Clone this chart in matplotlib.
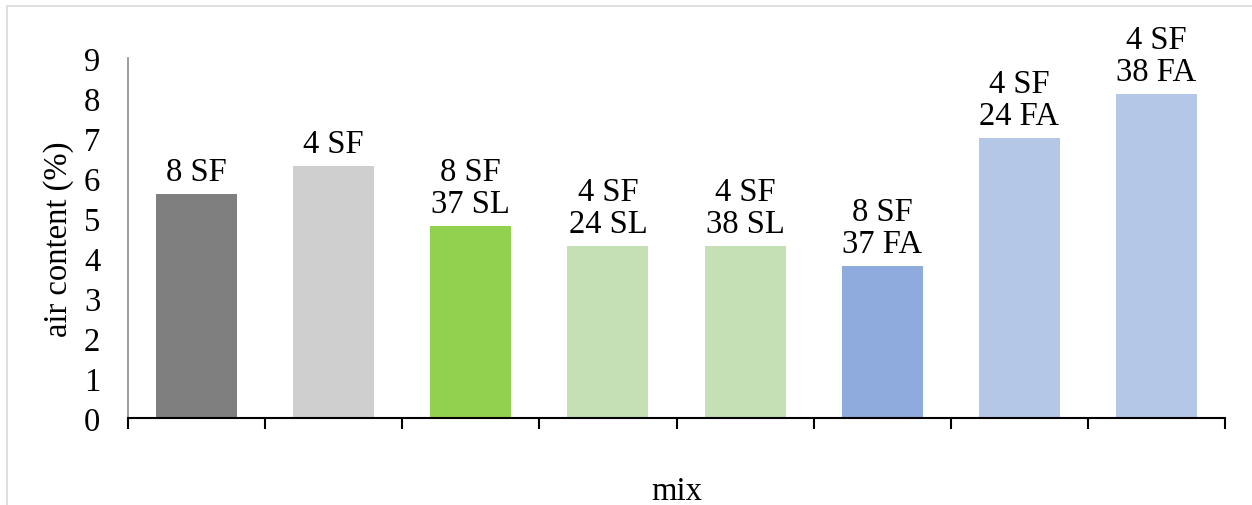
import matplotlib
matplotlib.use("Agg")
import matplotlib.pyplot as plt
from matplotlib.patches import Rectangle

plt.rcParams['font.family'] = ['Liberation Serif', 'DejaVu Serif']

mixes = ["8 SF", "4 SF", "8 SF\n37 SL", "4 SF\n24 SL", "4 SF\n38 SL",
         "8 SF\n37 FA", "4 SF\n24 FA", "4 SF\n38 FA"]
air_content = [5.6, 6.3, 4.8, 4.3, 4.3, 3.8, 7.0, 8.1]
bar_colors = ["#7f7f7f", "#d0cfcf", "#92d050", "#c5e0b4", "#c5e0b4",
              "#8faadc", "#b4c7e7", "#b4c7e7"]
y_ticks = list(range(0, 10))

W, H = 1252, 506
FS = 23.5
fig = plt.figure(figsize=(W / 100, H / 100), dpi=100)

# light frame around the chart area
fig.patches.append(Rectangle((7 / W, -0.1), 1.2, 1 - 7 / H + 0.1,
                             transform=fig.transFigure, fill=False,
                             edgecolor="#d9d9d9", linewidth=1.2))

ax = fig.add_axes([128 / W, 1 - 419 / H, (1225 - 128) / W, (419 - 59) / H])

x = list(range(len(mixes)))
ax.bar(x, air_content, width=0.59, color=bar_colors)

for xi, val, lab in zip(x, air_content, mixes):
    ax.annotate(lab, (xi, val), xytext=(0, 5), textcoords="offset points",
                ha="center", va="bottom", fontsize=FS, linespacing=1.05,
                multialignment="center")

ax.set_xlim(-0.5, len(mixes) - 0.5)
ax.set_ylim(0, 9)
ax.set_yticks(y_ticks)
ax.set_yticklabels([str(t) for t in y_ticks], fontsize=FS)
ax.tick_params(axis="y", length=0, pad=20)

# category boundary ticks on the x axis
ax.set_xticks([i - 0.5 for i in range(len(mixes) + 1)])
ax.set_xticklabels([])
ax.tick_params(axis="x", direction="out", length=8, width=1.5, color="black")

ax.spines["top"].set_visible(False)
ax.spines["right"].set_visible(False)
ax.spines["left"].set_color("#8c8c8c")
ax.spines["left"].set_linewidth(1.2)
ax.spines["bottom"].set_color("black")
ax.spines["bottom"].set_linewidth(1.5)

ax.set_ylabel("air content (%)", fontsize=FS, labelpad=7)
ax.set_xlabel("mix", fontsize=FS, labelpad=30)

fig.savefig("out.png", dpi=100)
